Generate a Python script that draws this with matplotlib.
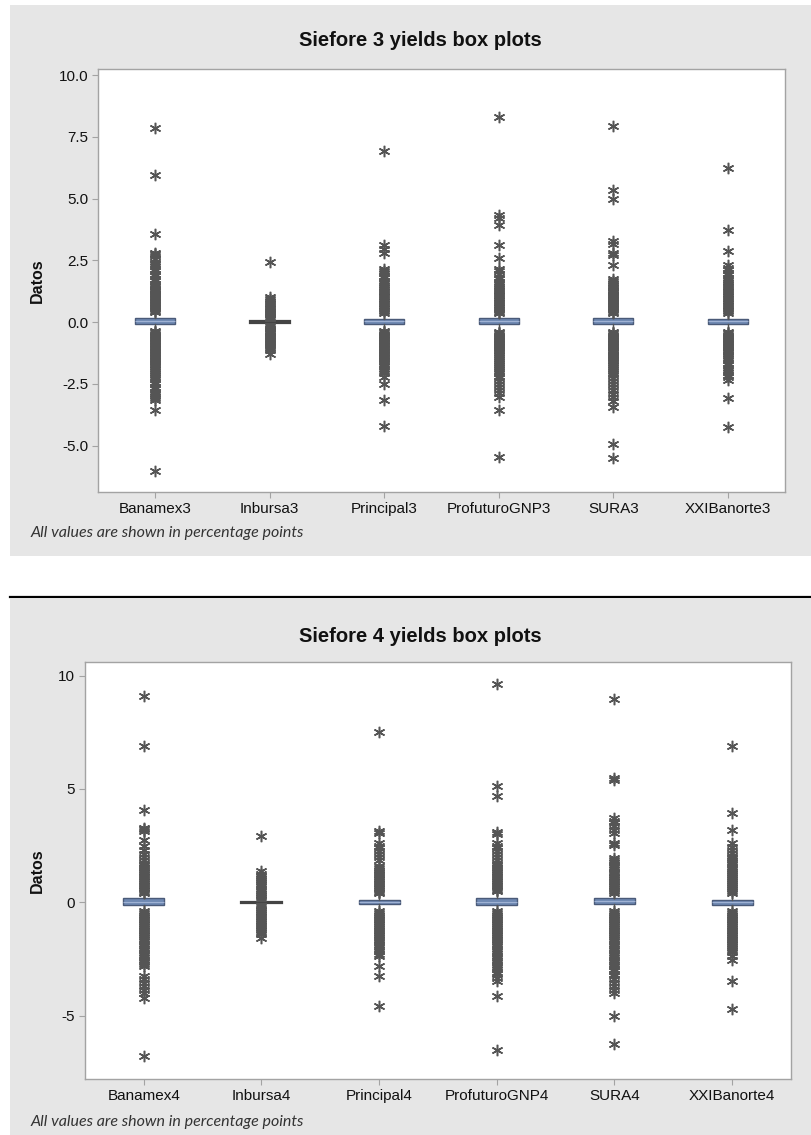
import matplotlib
matplotlib.use("Agg")
import matplotlib.pyplot as plt
from matplotlib.patches import Rectangle
from matplotlib.lines import Line2D

# ---------------- data: Siefore 3 ----------------
cats3 = ["Banamex3", "Inbursa3", "Principal3", "ProfuturoGNP3", "SURA3", "XXIBanorte3"]
q1_3 = [-0.07, -0.02, -0.06, -0.07, -0.07, -0.07]
med_3 = [0.04, 0.01, 0.03, 0.03, 0.03, 0.03]
q3_3 = [0.15, 0.03, 0.14, 0.15, 0.15, 0.14]
wlo_3 = [-0.32, -0.08, -0.30, -0.33, -0.33, -0.33]
whi_3 = [0.36, 0.08, 0.34, 0.34, 0.34, 0.34]

out_banamex3 = [7.87, 5.95, 3.56, 2.80, 2.74, 2.66, 2.56, 2.45, 2.36, 2.26, 2.16, 2.06, 1.96,
                1.86, 1.76, 1.66, 1.56, 1.48, 1.42, 1.36, 1.30, 1.24, 1.18, 1.12, 1.06, 1.00,
                0.94, 0.88, 0.82, 0.76, 0.70, 0.64, 0.58, 0.52, 0.46, 0.40,
                -0.36, -0.42, -0.48, -0.54, -0.60, -0.66, -0.72, -0.78, -0.84, -0.90, -0.96,
                -1.02, -1.08, -1.14, -1.20, -1.26, -1.32, -1.38, -1.44, -1.50, -1.56, -1.62,
                -1.68, -1.75, -1.82, -1.90, -1.98, -2.06, -2.14, -2.22, -2.32, -2.42, -2.52,
                -2.62, -2.72, -2.82, -2.92, -3.00, -3.08, -3.16, -3.54, -6.03]
out_inbursa3 = [2.44, 1.02, 0.94, 0.86, 0.79, 0.72, 0.65, 0.58, 0.52, 0.46, 0.40, 0.34, 0.28,
                0.22, 0.16, 0.11, -0.11, -0.16, -0.22, -0.28, -0.34, -0.40, -0.46, -0.52,
                -0.58, -0.64, -0.70, -0.76, -0.82, -0.88, -0.94, -1.00, -1.06, -1.13, -1.31]
out_principal3 = [6.92, 3.12, 2.98, 2.81, 2.17, 2.08, 1.98, 1.88, 1.78, 1.68, 1.58, 1.50, 1.42,
                  1.35, 1.28, 1.21, 1.14, 1.07, 1.00, 0.93, 0.86, 0.79, 0.72, 0.65, 0.58, 0.51,
                  0.44, 0.38,
                  -0.36, -0.42, -0.48, -0.54, -0.60, -0.66, -0.72, -0.78, -0.84, -0.90, -0.96,
                  -1.02, -1.08, -1.14, -1.20, -1.26, -1.32, -1.38, -1.44, -1.50, -1.56, -1.62,
                  -1.68, -1.78, -1.88, -1.98, -2.08, -2.21, -2.52, -3.16, -4.20]
out_profuturo3 = [8.29, 4.35, 4.22, 3.93, 3.14, 2.58, 2.17, 2.06, 1.95, 1.84, 1.74, 1.64, 1.54,
                  1.46, 1.39, 1.32, 1.25, 1.18, 1.11, 1.04, 0.97, 0.90, 0.83, 0.76, 0.69, 0.62,
                  0.55, 0.48, 0.41, 0.36,
                  -0.39, -0.45, -0.51, -0.57, -0.63, -0.69, -0.75, -0.81, -0.87, -0.93, -0.99,
                  -1.05, -1.11, -1.18, -1.26, -1.34, -1.42, -1.50, -1.58, -1.66, -1.74, -1.82,
                  -1.90, -1.98, -2.08, -2.18, -2.28, -2.40, -2.52, -2.64, -2.76, -2.88, -3.02,
                  -3.56, -5.45]
out_sura3 = [7.94, 5.34, 4.97, 3.28, 3.18, 2.78, 2.70, 2.31, 1.76, 1.68, 1.60, 1.52, 1.44,
             1.38, 1.32, 1.26, 1.20, 1.14, 1.08, 1.02, 0.96, 0.90, 0.84, 0.78, 0.72, 0.66,
             0.60, 0.54, 0.48, 0.42, 0.36,
             -0.39, -0.45, -0.51, -0.57, -0.63, -0.69, -0.75, -0.81, -0.87, -0.93, -0.99,
             -1.05, -1.11, -1.17, -1.23, -1.29, -1.35, -1.41, -1.47, -1.53, -1.59, -1.65,
             -1.72, -1.80, -1.88, -1.96, -2.06, -2.16, -2.26, -2.38, -2.50, -2.62, -2.76,
             -2.90, -3.05, -3.20, -3.43, -4.95, -5.52]
out_xxi3 = [6.26, 3.72, 2.87, 2.31, 2.20, 2.10, 2.00, 1.90, 1.78, 1.70, 1.62, 1.55, 1.48,
            1.41, 1.34, 1.27, 1.20, 1.13, 1.06, 0.99, 0.92, 0.85, 0.78, 0.71, 0.64, 0.57,
            0.50, 0.43, 0.37,
            -0.39, -0.45, -0.51, -0.57, -0.63, -0.69, -0.75, -0.81, -0.87, -0.93, -0.99,
            -1.05, -1.11, -1.17, -1.23, -1.29, -1.36, -1.44, -1.54, -1.64, -1.74, -1.84,
            -1.94, -2.04, -2.14, -2.24, -2.35, -3.06, -4.26]
outliers3 = [out_banamex3, out_inbursa3, out_principal3, out_profuturo3, out_sura3, out_xxi3]
yticks3 = [-5.0, -2.5, 0.0, 2.5, 5.0, 7.5, 10.0]

# ---------------- data: Siefore 4 ----------------
cats4 = ["Banamex4", "Inbursa4", "Principal4", "ProfuturoGNP4", "SURA4", "XXIBanorte4"]
q1_4 = [-0.12, -0.02, -0.08, -0.13, -0.07, -0.12]
med_4 = [0.03, 0.00, 0.02, 0.03, 0.04, 0.00]
q3_4 = [0.18, 0.03, 0.10, 0.18, 0.18, 0.11]
wlo_4 = [-0.37, -0.08, -0.36, -0.37, -0.36, -0.37]
whi_4 = [0.38, 0.08, 0.38, 0.40, 0.38, 0.38]

out_banamex4 = [9.12, 6.91, 4.09, 3.30, 3.24, 3.16, 2.77, 2.47, 2.30, 2.15, 2.00, 1.88, 1.74,
                1.66, 1.58, 1.50, 1.42, 1.34, 1.26, 1.18, 1.10, 1.02, 0.94, 0.86, 0.78, 0.70,
                0.62, 0.54, 0.47, 0.41,
                -0.40, -0.48, -0.56, -0.64, -0.72, -0.80, -0.88, -0.96, -1.04, -1.12, -1.20,
                -1.28, -1.36, -1.44, -1.52, -1.62, -1.72, -1.82, -1.92, -2.02, -2.12, -2.22,
                -2.32, -2.42, -2.52, -2.62, -2.72, -2.82, -3.26, -3.40, -3.55, -3.70, -3.85,
                -4.00, -4.22, -6.79]
out_inbursa4 = [2.91, 1.37, 1.26, 1.16, 1.06, 0.97, 0.88, 0.79, 0.70, 0.61, 0.52, 0.43, 0.34,
                0.25, 0.17, 0.10, -0.10, -0.18, -0.26, -0.34, -0.42, -0.50, -0.58, -0.66,
                -0.74, -0.82, -0.90, -0.98, -1.06, -1.14, -1.22, -1.30, -1.40, -1.57]
out_principal4 = [7.52, 3.13, 3.06, 2.62, 2.50, 2.38, 2.25, 2.12, 2.00, 1.88, 1.59, 1.51, 1.43,
                  1.35, 1.27, 1.19, 1.11, 1.03, 0.95, 0.87, 0.79, 0.71, 0.63, 0.55, 0.47, 0.41,
                  -0.40, -0.48, -0.56, -0.64, -0.72, -0.80, -0.88, -0.96, -1.04, -1.12, -1.20,
                  -1.28, -1.36, -1.44, -1.52, -1.60, -1.68, -1.76, -1.86, -1.96, -2.06, -2.16,
                  -2.26, -2.38, -2.82, -3.23, -4.59]
out_profuturo4 = [9.63, 5.12, 4.68, 3.09, 3.00, 2.62, 2.50, 2.38, 2.25, 2.12, 2.00, 1.88, 1.74,
                  1.66, 1.58, 1.50, 1.42, 1.34, 1.26, 1.18, 1.10, 1.02, 0.94, 0.86, 0.78, 0.70,
                  0.62, 0.55, 0.49,
                  -0.40, -0.48, -0.56, -0.64, -0.72, -0.80, -0.88, -0.96, -1.04, -1.12, -1.20,
                  -1.28, -1.36, -1.44, -1.52, -1.60, -1.68, -1.76, -1.84, -1.94, -2.05, -2.15,
                  -2.25, -2.35, -2.45, -2.55, -2.65, -2.75, -2.85, -2.95, -3.05, -3.18, -3.32,
                  -3.48, -4.12, -6.50]
out_sura4 = [8.97, 5.50, 5.40, 3.72, 3.60, 3.48, 3.36, 3.20, 3.06, 2.60, 2.52, 1.96, 1.86,
             1.76, 1.66, 1.56, 1.46, 1.36, 1.28, 1.20, 1.12, 1.04, 0.96, 0.88, 0.80, 0.72,
             0.64, 0.56, 0.48, 0.41,
             -0.40, -0.48, -0.56, -0.64, -0.72, -0.80, -0.88, -0.96, -1.04, -1.12, -1.20,
             -1.28, -1.36, -1.44, -1.52, -1.62, -1.72, -1.82, -1.92, -2.02, -2.12, -2.22,
             -2.32, -2.42, -2.52, -2.62, -2.72, -2.82, -2.92, -3.02, -3.14, -3.26, -3.40,
             -3.55, -3.70, -3.85, -4.00, -5.00, -6.25]
out_xxi4 = [6.91, 3.94, 3.18, 2.62, 2.45, 2.30, 2.18, 2.03, 1.94, 1.85, 1.76, 1.67, 1.58,
            1.49, 1.40, 1.31, 1.22, 1.13, 1.04, 0.95, 0.86, 0.77, 0.68, 0.59, 0.50, 0.41,
            -0.40, -0.48, -0.56, -0.64, -0.72, -0.80, -0.88, -0.96, -1.04, -1.12, -1.20,
            -1.28, -1.36, -1.44, -1.52, -1.60, -1.68, -1.76, -1.84, -1.92, -2.00, -2.10,
            -2.20, -2.35, -2.53, -3.48, -4.70]
outliers4 = [out_banamex4, out_inbursa4, out_principal4, out_profuturo4, out_sura4, out_xxi4]
yticks4 = [-5, 0, 5, 10]

title3 = "Siefore 3 yields box plots"
title4 = "Siefore 4 yields box plots"
ylabel = "Datos"
note = "All values are shown in percentage points"

# ---------------- style ----------------
W, H = 812, 1135
PANEL = "#e6e6e6"
BOXFACE = "#6f89b3"
BOXEDGE = "#4a5a78"
DARK = "#555555"
SPINE = "#a3a3a3"
FONT = ["Liberation Sans", "DejaVu Sans"]
plt.rcParams["font.family"] = FONT

fig = plt.figure(figsize=(W / 100, H / 100), dpi=100)
fig.patch.set_facecolor("white")


def px_rect(x0, y0, x1, y1):
    return [x0 / W, 1 - y1 / H, (x1 - x0) / W, (y1 - y0) / H]


# gray panels and separator line (drawn behind the axes)
for (x0, y0, x1, y1) in [(10, 5, 812, 556), (10, 599, 812, 1135)]:
    fig.patches.append(Rectangle((x0 / W, 1 - y1 / H), (x1 - x0) / W, (y1 - y0) / H,
                                 transform=fig.transFigure, facecolor=PANEL,
                                 edgecolor="none", zorder=-10))
fig.lines.append(Line2D([10 / W, 1.0], [1 - 597 / H, 1 - 597 / H], transform=fig.transFigure,
                        color="black", lw=1.6, zorder=-5))


def make_panel(rect, cats, q1, med, q3, wlo, whi, outs, yticks, ylim, fmt, title, title_y,
               note_y, ylab_x):
    ax = fig.add_axes(px_rect(*rect))
    ax.set_zorder(5)
    ax.set_facecolor("white")
    stats = []
    for i in range(len(cats)):
        stats.append(dict(label=cats[i], q1=q1[i], med=med[i], q3=q3[i],
                          whislo=wlo[i], whishi=whi[i], fliers=outs[i]))
    pos = list(range(1, len(cats) + 1))
    res = ax.bxp(stats, positions=pos, widths=0.35, patch_artist=True, showcaps=False,
                 boxprops=dict(facecolor=BOXFACE, edgecolor=BOXEDGE, linewidth=1.0),
                 medianprops=dict(color="#9fb2d4", linewidth=0.8),
                 whiskerprops=dict(color=DARK, linewidth=1.0),
                 flierprops=dict(marker=(6, 2, 0), markersize=8.2, markeredgecolor=DARK,
                                 markerfacecolor=DARK, markeredgewidth=1.1,
                                 linestyle="none"))
    # collapsed boxes (tiny IQR) appear as a dark bar
    for i, b in enumerate(res["boxes"]):
        if q3[i] - q1[i] < 0.1:
            b.set_facecolor("#444444")
            b.set_edgecolor("#444444")
            b.set_linewidth(1.6)
            res["medians"][i].set_color("#444444")
    ax.set_xlim(0.5, len(cats) + 0.5)
    ax.set_ylim(*ylim)
    ax.set_xticks(pos)
    ax.set_xticklabels(cats)
    ax.set_yticks(yticks)
    ax.set_yticklabels([fmt.format(v) for v in yticks])
    for s in ax.spines.values():
        s.set_color(SPINE)
        s.set_linewidth(1.0)
    ax.tick_params(axis="both", direction="out", length=4, width=0.8, color=SPINE,
                   labelsize=11, labelcolor="#111111", pad=3)
    ax.set_ylabel(ylabel, fontsize=11.5, fontweight="bold", color="#111111")
    ax.yaxis.set_label_coords(ylab_x, 0.5)
    fig.text(420 / W, 1 - title_y / H, title, ha="center", va="center", fontsize=14.5,
             fontweight="bold", color="#111111")
    fig.text(31 / W, 1 - note_y / H, note, ha="left", va="center", fontsize=11.5,
             style="italic", family=["Lato", "DejaVu Sans"], color="#333333")
    return ax


make_panel((98, 69, 785, 492), cats3, q1_3, med_3, q3_3, wlo_3, whi_3, outliers3, yticks3,
           (-6.88, 10.25), "{:.1f}", title3, 41, 533, -0.077)
make_panel((85, 662, 791, 1079), cats4, q1_4, med_4, q3_4, wlo_4, whi_4, outliers4, yticks4,
           (-7.79, 10.6), "{:d}", title4, 637, 1122, -0.057)

fig.savefig("out.png", dpi=100, facecolor="white")
